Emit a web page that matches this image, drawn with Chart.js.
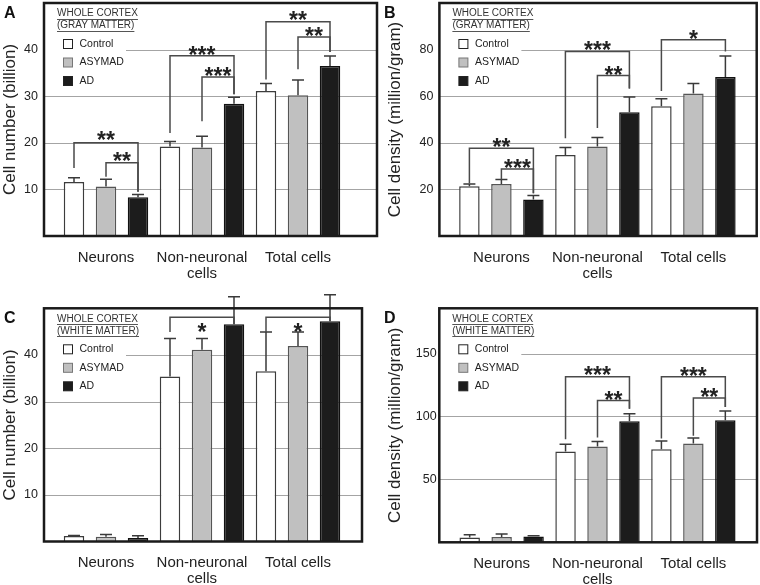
<!DOCTYPE html>
<html>
<head>
<meta charset="utf-8">
<script src="https://cdn.jsdelivr.net/npm/chart.js@4.4.1/dist/chart.umd.min.js"></script>
<style>
  body { margin: 0; background: #fff; }
  #wrap { position: relative; width: 760px; height: 585px; }
  .cell { position: absolute; }
</style>
</head>
<body>
<div id="wrap">
  <div class="cell" style="left:0;top:0"><canvas id="cA" width="380" height="290"></canvas></div>
  <div class="cell" style="left:380px;top:0"><canvas id="cB" width="380" height="290"></canvas></div>
  <div class="cell" style="left:0;top:290px"><canvas id="cC" width="380" height="295"></canvas></div>
  <div class="cell" style="left:380px;top:290px"><canvas id="cD" width="380" height="295"></canvas></div>
</div>
<script>
var categories = ['Neurons', ['Non-neuronal', 'cells'], 'Total cells'];
var groups = ['Control', 'ASYMAD', 'AD'];

// A - cell number, gray matter (billion)
var numGrayControl = [11.6, 19.2, 31.1];
var numGrayAsymad  = [10.6, 19.0, 30.2];
var numGrayAd      = [8.3, 28.4, 36.5];
var numGrayControlErr = [0.9, 1.1, 1.6];
var numGrayAsymadErr  = [1.6, 2.4, 3.3];
var numGrayAdErr      = [0.6, 1.4, 2.1];

// B - cell density, gray matter (million/gram)
var denGrayControl = [21.4, 34.8, 55.7];
var denGrayAsymad  = [22.3, 38.4, 61.2];
var denGrayAd      = [15.7, 53.1, 68.2];
var denGrayControlErr = [0.9, 3.2, 3.2];
var denGrayAsymadErr  = [2.0, 3.9, 4.2];
var denGrayAdErr      = [1.7, 6.6, 9.1];

// C - cell number, white matter (billion)
var numWhiteControl = [1.2, 35.4, 36.5];
var numWhiteAsymad  = [1.0, 41.1, 41.9];
var numWhiteAd      = [0.75, 46.6, 47.2];
var numWhiteControlErr = [0.1, 8.1, 8.4];
var numWhiteAsymadErr  = [0.5, 2.4, 3.0];
var numWhiteAdErr      = [0.5, 5.9, 5.7];

// D - cell density, white matter (million/gram)
var denWhiteControl = [3.9, 72.2, 74.0];
var denWhiteAsymad  = [4.2, 76.2, 78.5];
var denWhiteAd      = [4.6, 96.2, 97.0];
var denWhiteControlErr = [2.1, 5.8, 6.6];
var denWhiteAsymadErr  = [2.4, 4.0, 4.5];
var denWhiteAdErr      = [0.6, 6.0, 7.4];

var ticksNum = [10, 20, 30, 40];
var ticksDenGray = [20, 40, 60, 80];
var ticksDenWhite = [50, 100, 150];

// significance brackets (data units): category, series from/to, top of bracket, leg ends, star label and its height
var bracketsA = [
  {cat: 0, from: 0, to: 2, top: 20.0, left: 14.6, right: 9.5, label: '**', at: 21.7},
  {cat: 0, from: 1, to: 2, top: 15.7, left: 12.7, right: 9.5, label: '**', at: 17.2},
  {cat: 1, from: 0, to: 2, top: 38.7, left: 22.1, right: 30.4, label: '***', at: 40.1},
  {cat: 1, from: 1, to: 2, top: 34.1, left: 24.6, right: 30.4, label: '***', at: 35.6},
  {cat: 2, from: 0, to: 2, top: 46.0, left: 33.6, right: 39.5, label: '**', at: 47.6},
  {cat: 2, from: 1, to: 2, top: 42.7, left: 35.8, right: 39.5, label: '**', at: 44.0}
];
var bracketsB = [
  {cat: 0, from: 0, to: 2, top: 37.7, left: 22.6, right: 18.3, label: '**', at: 40.6},
  {cat: 0, from: 1, to: 2, top: 28.8, left: 24.3, right: 18.3, label: '***', at: 31.7},
  {cat: 1, from: 0, to: 2, top: 79.2, left: 42.0, right: 63.3, label: '***', at: 82.3},
  {cat: 1, from: 1, to: 2, top: 68.9, left: 46.3, right: 63.3, label: '**', at: 71.5},
  {cat: 2, from: 0, to: 2, top: 84.2, left: 62.2, right: 79.2, label: '*', at: 86.7}
];
var bracketsC = [
  {cat: 1, from: 0, to: 2, top: 48.1, left: 44.9, right: 46.6, label: '*', at: 46.2},
  {cat: 2, from: 0, to: 2, top: 48.1, left: 44.9, right: 47.2, label: '*', at: 46.2}
];
var bracketsD = [
  {cat: 1, from: 0, to: 2, top: 131.5, left: 82.0, right: 106.1, label: '***', at: 137.4},
  {cat: 1, from: 1, to: 2, top: 112.7, left: 83.4, right: 106.1, label: '**', at: 117.3},
  {cat: 2, from: 0, to: 2, top: 131.5, left: 82.6, right: 107.5, label: '***', at: 136.8},
  {cat: 2, from: 1, to: 2, top: 114.7, left: 84.7, right: 107.5, label: '**', at: 119.5}
];

var FONT = "'Liberation Sans', Arial, sans-serif";
var barFill = ['#ffffff', '#c0c0c0', '#1c1c1c'];
var barLine = ['#3c3c3c', '#555555', '#111111'];

var panels = {};

var decor = {
  id: 'decor',
  beforeDatasetsDraw: function(chart) {
    var p = panels[chart.canvas.id], ca = chart.chartArea, ctx = chart.ctx;
    var fl = ca.left - p.frameL, fr = ca.right + p.frameR;
    ctx.save();
    ctx.strokeStyle = '#a4a4a4';
    ctx.lineWidth = 1;
    chart.scales.y.ticks.forEach(function(t) {
      var y = Math.round(chart.scales.y.getPixelForValue(t.value)) + 0.5;
      var x0 = (y < ca.top + 92) ? fl + 82 : fl;
      ctx.beginPath();
      ctx.moveTo(x0, y);
      ctx.lineTo(fr, y);
      ctx.stroke();
    });
    ctx.restore();
  },
  afterDatasetsDraw: function(chart) {
    var p = panels[chart.canvas.id], ctx = chart.ctx, ys = chart.scales.y;
    ctx.save();
    // error bars
    ctx.strokeStyle = '#3a3a3a';
    ctx.lineWidth = 1.5;
    chart.data.datasets.forEach(function(ds, i) {
      chart.getDatasetMeta(i).data.forEach(function(bar, j) {
        var yTop = ys.getPixelForValue(ds.data[j] + ds.err[j]);
        ctx.beginPath();
        ctx.moveTo(bar.x, bar.y);
        ctx.lineTo(bar.x, yTop);
        ctx.moveTo(bar.x - 6, yTop);
        ctx.lineTo(bar.x + 6, yTop);
        ctx.stroke();
      });
    });
    // brackets
    ctx.strokeStyle = '#4a4a4a';
    ctx.fillStyle = '#222';
    ctx.font = 'bold 23px ' + FONT;
    ctx.textAlign = 'center';
    ctx.textBaseline = 'alphabetic';
    p.brackets.forEach(function(b) {
      var x1 = chart.getDatasetMeta(b.from).data[b.cat].x;
      var x2 = chart.getDatasetMeta(b.to).data[b.cat].x;
      var yt = ys.getPixelForValue(b.top);
      ctx.beginPath();
      ctx.moveTo(x1, ys.getPixelForValue(b.left));
      ctx.lineTo(x1, yt);
      ctx.lineTo(x2, yt);
      ctx.lineTo(x2, ys.getPixelForValue(b.right));
      ctx.stroke();
      ctx.fillText(b.label, (x1 + x2) / 2, ys.getPixelForValue(b.at) + 13.5);
    });
    ctx.restore();
  },
  afterDraw: function(chart) {
    var p = panels[chart.canvas.id], ca = chart.chartArea, ctx = chart.ctx;
    var fl = ca.left - p.frameL, fr = ca.right + p.frameR;
    ctx.save();
    // frame
    ctx.strokeStyle = '#1a1a1a';
    ctx.lineWidth = 2.5;
    ctx.strokeRect(fl, ca.top, fr - fl, ca.bottom - ca.top);
    // panel letter
    ctx.fillStyle = '#111';
    ctx.font = 'bold 16px ' + FONT;
    ctx.textAlign = 'left';
    ctx.textBaseline = 'alphabetic';
    ctx.fillText(p.letter, 4, ca.top + 15);
    // header
    ctx.font = '10px ' + FONT;
    ctx.fillStyle = '#333';
    ctx.strokeStyle = '#555';
    ctx.lineWidth = 1;
    ctx.textBaseline = 'middle';
    p.header.forEach(function(s, k) {
      var x = fl + 13, y = ca.top + 10.5 + k * 12;
      ctx.fillText(s, x, y);
      var w = ctx.measureText(s).width;
      ctx.beginPath();
      ctx.moveTo(x, Math.round(y + 5) + 0.5);
      ctx.lineTo(x + w, Math.round(y + 5) + 0.5);
      ctx.stroke();
    });
    // legend
    ctx.font = '10.5px ' + FONT;
    var rows = [41, 59.5, 78];
    groups.forEach(function(g, k) {
      var y = ca.top + rows[k];
      ctx.fillStyle = barFill[k];
      ctx.fillRect(fl + 19.5, y - 4.5, 9, 9);
      ctx.strokeStyle = k === 1 ? '#777' : '#222';
      ctx.strokeRect(fl + 19.5, y - 4.5, 9, 9);
      ctx.fillStyle = '#222';
      ctx.fillText(g, fl + 35.5, y);
    });
    ctx.restore();
  }
};

function makeChart(id, series, errs, yMax, yTicks, yTitle, o) {
  panels[id] = o;
  var datasets = series.map(function(vals, k) {
    return {
      label: groups[k],
      data: vals,
      err: errs[k],
      backgroundColor: barFill[k],
      borderColor: barLine[k],
      borderWidth: 1.5,
      barPercentage: 0.64,
      categoryPercentage: 1.0
    };
  });
  return new Chart(document.getElementById(id), {
    type: 'bar',
    data: {labels: categories, datasets: datasets},
    plugins: [decor],
    options: {
      responsive: false,
      animation: false,
      events: [],
      layout: {padding: {top: o.padTop, right: o.padRight, left: 0, bottom: 0}},
      plugins: {legend: {display: false}, tooltip: {enabled: false}},
      scales: {
        x: {
          grid: {display: false, drawTicks: false},
          border: {display: false},
          ticks: {color: '#222', padding: o.xPad, autoSkip: false, maxRotation: 0, minRotation: 0,
                  font: {family: FONT, size: 15, lineHeight: 1.07}},
          afterFit: function(s) { s.height = o.xHeight; s.paddingLeft = 0; s.paddingRight = 0; }
        },
        y: {
          min: 0,
          max: yMax,
          grid: {display: false, drawTicks: false},
          border: {display: false},
          ticks: {color: '#222', padding: o.tickPad, font: {family: FONT, size: 12.5}},
          afterBuildTicks: function(s) { s.ticks = yTicks.map(function(v) { return {value: v}; }); },
          afterFit: function(s) { s.width = o.axisWidth; s.paddingTop = 0; s.paddingBottom = 0; },
          title: {display: true, text: yTitle, color: '#222',
                  font: {family: FONT, size: 17, lineHeight: 1.2}, padding: {top: o.titlePad, bottom: 0}}
        }
      }
    }
  });
}

makeChart('cA', [numGrayControl, numGrayAsymad, numGrayAd],
  [numGrayControlErr, numGrayAsymadErr, numGrayAdErr], 50, ticksNum, 'Cell number (billion)',
  {letter: 'A', header: ['WHOLE CORTEX', '(GRAY MATTER)'], brackets: bracketsA,
   padTop: 3, padRight: 34, axisWidth: 58, tickPad: 20, titlePad: 0, xHeight: 54, xPad: 14, frameL: 14, frameR: 31});

makeChart('cB', [denGrayControl, denGrayAsymad, denGrayAd],
  [denGrayControlErr, denGrayAsymadErr, denGrayAdErr], 100, ticksDenGray, 'Cell density (million/gram)',
  {letter: 'B', header: ['WHOLE CORTEX', '(GRAY MATTER)'], brackets: bracketsB,
   padTop: 3, padRight: 18.6, axisWidth: 73.4, tickPad: 20, titlePad: 5, xHeight: 54, xPad: 14, frameL: 14, frameR: 15.3});

makeChart('cC', [numWhiteControl, numWhiteAsymad, numWhiteAd],
  [numWhiteControlErr, numWhiteAsymadErr, numWhiteAdErr], 50, ticksNum, 'Cell number (billion)',
  {letter: 'C', header: ['WHOLE CORTEX', '(WHITE MATTER)'], brackets: bracketsC,
   padTop: 18.3, padRight: 34, axisWidth: 58, tickPad: 20, titlePad: 0, xHeight: 43.5, xPad: 13.5, frameL: 14, frameR: 16});

makeChart('cD', [denWhiteControl, denWhiteAsymad, denWhiteAd],
  [denWhiteControlErr, denWhiteAsymadErr, denWhiteAdErr], 186, ticksDenWhite, 'Cell density (million/gram)',
  {letter: 'D', header: ['WHOLE CORTEX', '(WHITE MATTER)'], brackets: bracketsD,
   padTop: 18.3, padRight: 18.7, axisWidth: 73.7, tickPad: 17, titlePad: 5, xHeight: 42.7, xPad: 13.5, frameL: 14.4, frameR: 15.7});
</script>
</body>
</html>
